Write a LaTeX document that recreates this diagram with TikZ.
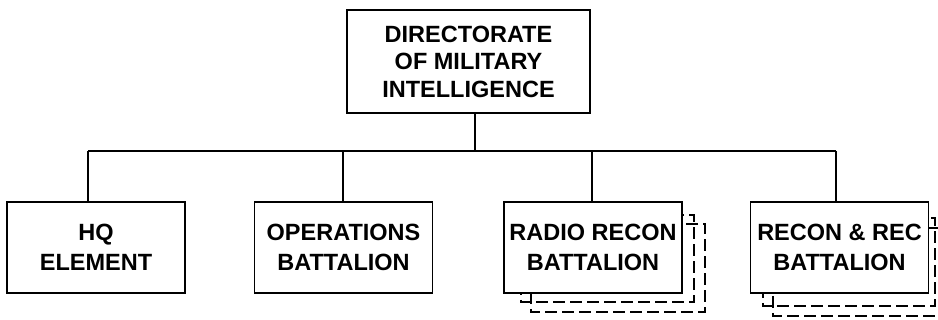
\documentclass[tikz,border=0pt]{standalone}
\usepackage{fontspec}
\setmainfont{Liberation Sans}
\begin{document}
\begin{tikzpicture}[x=1pt,y=-1pt,
  line width=1.8pt,
  box/.style={draw, fill=white, rectangle, inner sep=0pt, align=center,
    font=\fontsize{23.5}{30}\selectfont\bfseries},
  topbox/.style={box, minimum width=243pt, minimum height=103pt,
    font=\fontsize{23.5}{27.5}\selectfont\bfseries},
  unitbox/.style={box, minimum width=178pt, minimum height=91pt},
  dashbox/.style={draw, dash pattern=on 12pt off 5pt, line width=1.8pt}
]
\useasboundingbox (0,0) rectangle (938,320);

% stacked (dashed) copies behind the battalion boxes
\draw[dashbox] (531,224) rectangle (705,312);
\draw[dashbox] (521,215) rectangle (694,302);
\draw[dashbox] (773,228) rectangle (946,316);
\draw[dashbox] (763,218) rectangle (935,306);

\node[topbox] (dmi) at (468.5,61.5) {DIRECTORATE\\OF MILITARY\\INTELLIGENCE};
\node[unitbox] (hq) at (96,247.5) {HQ\\ELEMENT};
\node[unitbox] (ops) at (343.5,247.5) {OPERATIONS\\BATTALION};
\node[unitbox] (radio) at (593,247.5) {RADIO RECON\\BATTALION};
\node[unitbox] (recon) at (839.5,247.5) {RECON \& REC\\BATTALION};

\coordinate (jt) at (475,151);
\coordinate (j1) at (88,151);
\coordinate (j2) at (343,151);
\coordinate (j3) at (592,151);
\coordinate (j4) at (836,151);

\draw (dmi.south -| jt) -- (jt);
\draw (j1) -- (j4);
\draw (j1) -- (j1 |- hq.north);
\draw (j2) -- (j2 |- ops.north);
\draw (j3) -- (j3 |- radio.north);
\draw (j4) -- (j4 |- recon.north);
\end{tikzpicture}
\end{document}
